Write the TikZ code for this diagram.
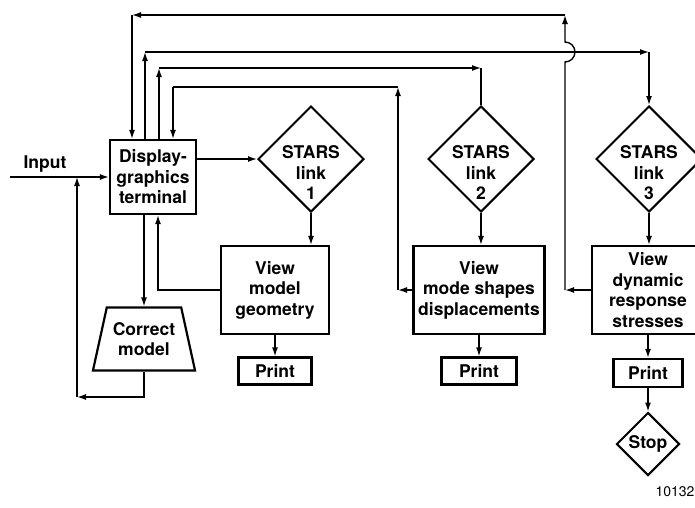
\documentclass[tikz,border=0pt]{standalone}
\usepackage{fontspec}
\setmainfont{TeX Gyre Heros}
\usetikzlibrary{shapes.geometric,arrows.meta}

\begin{document}
\begin{tikzpicture}[x=1pt,y=-1pt,font=\bfseries\fontsize{17.5}{20.5}\selectfont]
  \tikzstyle{box}=[draw,line width=2.2pt,align=center,inner sep=0pt]
  \tikzstyle{link}=[diamond,draw,line width=2pt,inner sep=0pt,minimum width=106pt,minimum height=106pt]
  \tikzstyle{txt}=[align=center,inner sep=0pt]
  \tikzstyle{wire}=[line width=1.4pt]
  \tikzstyle{flow}=[wire,-{Latex[length=9pt,width=6pt]}]

  \useasboundingbox (0,0) rectangle (695,507);

  % terminal and correction loop
  \node[box,minimum width=86pt,minimum height=74pt] (disp) at (153,177) {Display-\\graphics\\terminal};
  \node[box,trapezium,trapezium left angle=71,trapezium right angle=71,trapezium stretches=true,minimum width=103pt,minimum height=63pt] (corr) at (144,339) {Correct\\model};
  \node[txt] (inp) at (45,164) {Input};
  \coordinate (src) at (10,177);
  \coordinate (fb) at (77,397);

  % STARS links
  \node[link] (link1) at (311,159) {};
  \node[txt] (link1txt) at (311,173) {STARS\\link\\1};
  \node[link] (link2) at (481,159) {};
  \node[txt] (link2txt) at (481,173) {STARS\\link\\2};
  \node[link] (link3) at (649,159) {};
  \node[txt] (link3txt) at (649,173) {STARS\\link\\3};

  % viewers
  \node[box,minimum width=108pt,minimum height=88pt] (geom) at (275,290) {View\\model\\geometry};
  \node[box,minimum width=131pt,minimum height=88pt] (modes) at (479,290) {View\\mode shapes\\displacements};
  \node[box,minimum width=112pt,minimum height=88pt] (dyn) at (648,290) {View\\dynamic\\response\\stresses};

  \node[box,minimum width=73pt,minimum height=27pt] (print1) at (275,371) {Print};
  \node[box,minimum width=75pt,minimum height=27pt] (print2) at (479,371) {Print};
  \node[box,minimum width=69pt,minimum height=28pt] (print3) at (648,373) {Print};
  \node[link,minimum width=63pt,minimum height=63pt] (stop) at (648,444) {Stop};

  \node[txt,font=\mdseries\fontsize{14}{16}\selectfont] (fignum) at (675,492) {10132};

  % input and correction
  \draw[flow] (src) -- (disp.west);
  \draw[flow] ([xshift=-9pt]disp.south) -- ([xshift=-9pt]disp.south |- corr.north);
  \draw[flow] (corr.south) |- (fb);
  \draw[flow] (fb) -- (fb |- src);
  \draw[flow] (geom.west) -| ([xshift=5pt]disp.south);

  % main line
  \draw[flow] (disp.east |- link1.west) -- (link1.west);
  \draw[flow] (link1.south) -- (link1.south |- geom.north);
  \draw[flow] (link2.south) -- (link2.south |- modes.north);
  \draw[flow] (link3.south) -- (link3.south |- dyn.north);
  \draw[flow] (geom.south) -- (print1.north);
  \draw[flow] (modes.south) -- (print2.north);
  \draw[flow] (dyn.south) -- (print3.north);
  \draw[flow] (print3.south) -- (stop.north);

  % return from link 3 (hops over the line to link 3)
  \coordinate (r3) at (565,290);
  \coordinate (hop) at (565,62);
  \coordinate (t3) at (565,15);
  \coordinate (t0) at (132,15);
  \draw[flow] (dyn.west) -- (r3);
  \draw[flow] (r3) -- (hop) arc[start angle=-90,end angle=90,radius=10pt] -- (t3);
  \draw[flow] (t3) -- (t0);
  \draw[flow] (t0) -- ([xshift=-21pt]disp.north);

  % to link 3
  \coordinate (t2a) at (145,52);
  \coordinate (t2b) at (649,52);
  \draw[flow] ([xshift=-8pt]disp.north) -- (t2a);
  \draw[flow] (t2a) -- (t2b);
  \draw[flow] (t2b) -- (link3.north);

  % to link 2
  \coordinate (t1a) at (159,68);
  \coordinate (t1b) at (481,68);
  \draw[flow] ([xshift=6pt]disp.north) -- (t1a);
  \draw[flow] (t1a) -- (t1b);
  \draw[wire] (t1b) -- (link2.north);

  % return from link 2
  \coordinate (r2) at (398,290);
  \coordinate (t4b) at (398,87);
  \coordinate (t4a) at (173,87);
  \draw[flow] (modes.west) -- (r2);
  \draw[flow] (r2) -- (t4b);
  \draw[wire] (t4b) -- (t4a);
  \draw[flow] (t4a) -- ([xshift=20pt]disp.north);
\end{tikzpicture}
\end{document}
